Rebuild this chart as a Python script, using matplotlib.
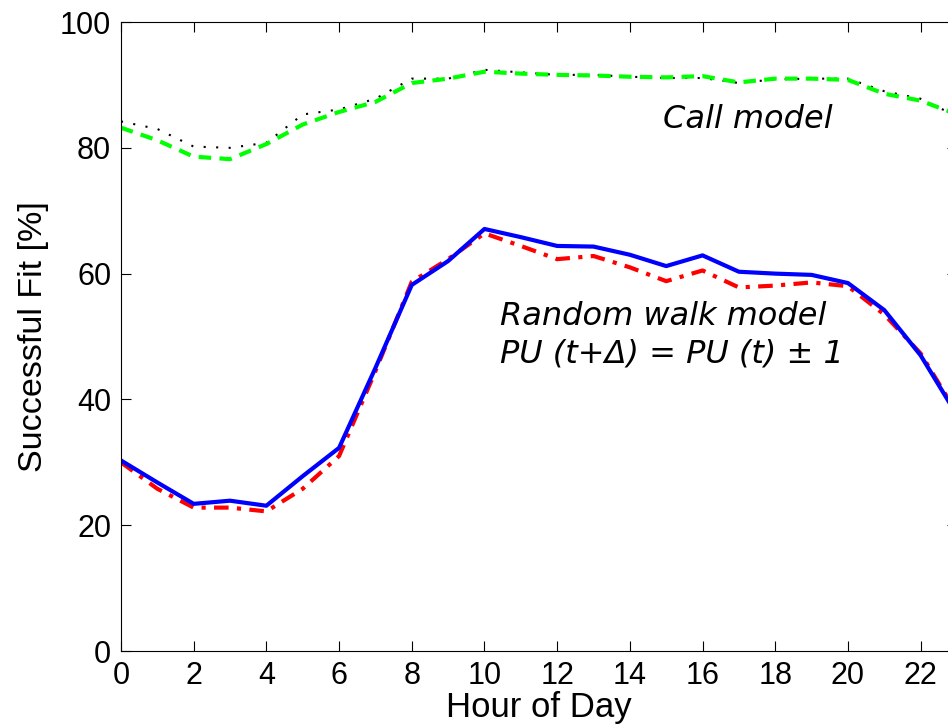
import numpy as np
import matplotlib.pyplot as plt

# hourly success rates
hours = np.arange(24)
rw_fit = [30.3, 26.8, 23.4, 23.9, 23.1, 27.8, 32.3, 45.0, 58.2, 62.0, 67.1, 65.8,
          64.4, 64.3, 63.0, 61.2, 62.9, 60.3, 60.0, 59.8, 58.5, 54.2, 47.0, 37.5]
rw_fit2 = [30.0, 25.8, 22.8, 22.8, 22.2, 25.8, 31.0, 44.5, 58.7, 62.3, 66.4, 64.4,
           62.3, 62.8, 61.0, 58.8, 60.5, 57.8, 58.1, 58.6, 58.0, 53.5, 47.3, 37.8]
call_fit = [83.2, 81.2, 78.6, 78.2, 80.6, 83.7, 85.7, 87.3, 90.3, 91.0, 92.1, 91.8,
            91.6, 91.5, 91.3, 91.2, 91.4, 90.4, 91.0, 91.0, 90.8, 88.6, 87.5, 85.3]
call_fit2 = [84.2, 83.0, 80.2, 80.0, 80.8, 85.3, 86.1, 87.8, 91.0, 91.0, 92.4, 92.0,
             91.6, 91.6, 91.3, 91.1, 91.1, 90.3, 90.9, 91.0, 91.0, 89.0, 87.8, 85.0]

xticks = np.arange(0, 23, 2)
yticks = np.arange(0, 101, 20)

fig = plt.figure(figsize=(9.48, 7.27), dpi=100)
ax = fig.add_axes([0.1276, 0.1045, 0.8819, 0.8652])

ax.plot(hours, call_fit2, color='black', lw=1.5, linestyle=(0, (1, 5)))
ax.plot(hours, call_fit, color='#00ff00', lw=3, linestyle=(0, (3, 2)))
ax.plot(hours, rw_fit2, color='red', lw=3, linestyle=(0, (3.5, 2, 1, 2)))
ax.plot(hours, rw_fit, color='blue', lw=3)

ax.text(14.9, 83.1, 'Call model', fontsize=23, style='italic', family='DejaVu Sans')
ax.text(10.44, 51.8, 'Random walk model', fontsize=23, style='italic', family='DejaVu Sans')
ax.text(10.44, 45.9, 'PU (t+\u0394) = PU (t) \u00b1 1', fontsize=23, style='italic',
        family='DejaVu Sans')

ax.set_xlim(0, 23)
ax.set_ylim(0, 100)
ax.set_xticks(xticks)
ax.set_yticks(yticks)
ax.tick_params(direction='in', length=7, width=0.8, top=True, right=True,
               labelsize=22, pad=7)
for lab in ax.get_xticklabels() + ax.get_yticklabels():
    lab.set_family('Liberation Sans')
for s in ax.spines.values():
    s.set_linewidth(0.8)

ax.set_xlabel('Hour of Day', fontsize=25, family='Liberation Sans')
ax.set_ylabel('Successful Fit [%]', fontsize=24.5, family='Liberation Sans')
ax.xaxis.set_label_coords(0.5, -0.063)
ax.yaxis.set_label_coords(-0.086, 0.5)

fig.savefig('out.png', dpi=100)
